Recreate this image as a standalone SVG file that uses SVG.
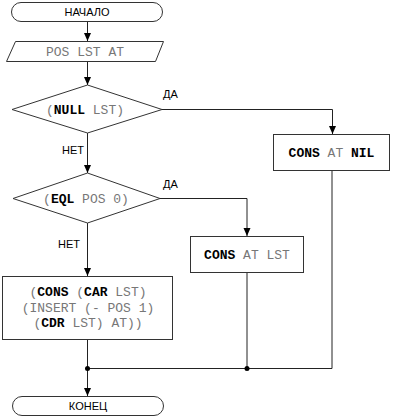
<svg xmlns="http://www.w3.org/2000/svg" width="393" height="418" viewBox="0 0 393 418">
<defs>
<marker id="arr" viewBox="0 0 8 8" refX="8" refY="4" markerWidth="8" markerHeight="8" markerUnits="userSpaceOnUse" orient="auto">
<path d="M0,0.5 L8,4 L0,7.5 Z" fill="#000"/>
</marker>
<style>
.shape{fill:#fff;stroke:#333;stroke-width:1}
.edge{fill:none;stroke:#222;stroke-width:1}
.lbl{font-family:"Liberation Sans",Arial,sans-serif;font-size:11px;fill:#000}
.mono{font-family:"Liberation Mono","Courier New",monospace;font-size:13px;fill:#777}
.b{font-weight:bold;fill:#000}
.dot{fill:#000}
</style>
</defs>
<rect width="393" height="418" fill="#fff"/>
<g id="connectors">
<path class="edge" d="M87.5,21 V41" marker-end="url(#arr)"/>
<path class="edge" d="M87.5,62 V85" marker-end="url(#arr)"/>
<path class="edge" d="M162,109.5 H332.5 V134" marker-end="url(#arr)"/>
<path class="edge" d="M87.5,133 V173" marker-end="url(#arr)"/>
<path class="edge" d="M160,198.5 H247 V236" marker-end="url(#arr)"/>
<path class="edge" d="M87.5,223 V276" marker-end="url(#arr)"/>
<path class="edge" d="M87.5,339 V396" marker-end="url(#arr)"/>
<path class="edge" d="M247,273 V368.5"/>
<path class="edge" d="M332,170 V368.5 H87.5"/>
<circle class="dot" cx="87.5" cy="368.5" r="2.5"/>
<circle class="dot" cx="247" cy="368.5" r="2.5"/>
<text class="lbl" x="163" y="98">ДА</text>
<text class="lbl" x="163" y="188">ДА</text>
<text class="lbl" x="62" y="154">НЕТ</text>
<text class="lbl" x="58" y="248">НЕТ</text>
</g>
<g id="start">
<rect class="shape" x="11.5" y="2.5" width="151" height="19" rx="9.5"/>
<text class="lbl" x="87" y="16" text-anchor="middle">НАЧАЛО</text>
</g>
<g id="input">
<path class="shape" d="M15.5,41.5 H163.5 L155.5,61.5 H6.5 Z"/>
<text class="mono" x="85" y="56" text-anchor="middle">POS LST AT</text>
</g>
<g id="cond1">
<path class="shape" d="M87.5,85 L162,109.5 L87.5,133 L12,109.5 Z"/>
<text class="mono" x="85" y="114" text-anchor="middle">(<tspan class="b">NULL</tspan> LST)</text>
</g>
<g id="box1">
<rect class="shape" x="273.5" y="134.5" width="116" height="36"/>
<text class="mono" x="331.5" y="157" text-anchor="middle"><tspan class="b">CONS</tspan> AT <tspan class="b">NIL</tspan></text>
</g>
<g id="cond2">
<path class="shape" d="M87.5,173 L160,198.5 L87.5,223 L13,198.5 Z"/>
<text class="mono" x="86" y="203" text-anchor="middle">(<tspan class="b">EQL</tspan> POS 0)</text>
</g>
<g id="box2">
<rect class="shape" x="190.5" y="236.5" width="113" height="36"/>
<text class="mono" x="247" y="259" text-anchor="middle"><tspan class="b">CONS</tspan> AT LST</text>
</g>
<g id="box3">
<rect class="shape" x="2.5" y="276.5" width="170" height="63"/>
<text class="mono" x="88" y="296" text-anchor="middle">(<tspan class="b">CONS</tspan> (<tspan class="b">CAR</tspan> LST)</text>
<text class="mono" x="88" y="312" text-anchor="middle">(INSERT (- POS 1)</text>
<text class="mono" x="88" y="327" text-anchor="middle">(<tspan class="b">CDR</tspan> LST) AT))</text>
</g>
<g id="end">
<rect class="shape" x="12.5" y="396.5" width="151" height="19" rx="9.5"/>
<text class="lbl" x="88" y="410" text-anchor="middle">КОНЕЦ</text>
</g>
</svg>
